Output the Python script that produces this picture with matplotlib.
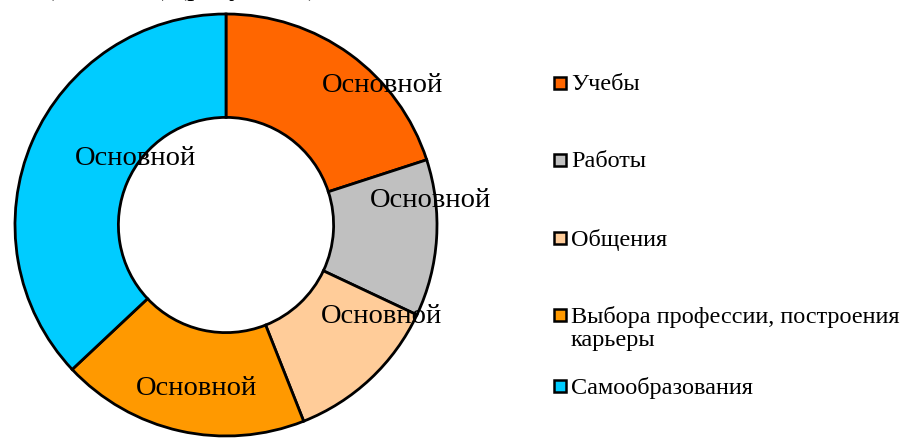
import matplotlib.pyplot as plt
from matplotlib.patches import Rectangle

# доли по категориям (оценка по рисунку)
categories = ['Учебы', 'Работы', 'Общения',
              'Выбора профессии, построения\nкарьеры', 'Самообразования']
values = [20, 12, 12, 19, 37]
label_text = 'Основной'
colors = ['#FF6600', '#C0C0C0', '#FFCC99', '#FF9900', '#00CCFF']

# положение подписей (в долях радиуса)
label_pos = [(0.744, 0.668), (0.967, 0.123), (0.739, -0.431),
             (-0.142, -0.768), (-0.431, 0.318)]

plt.rcParams['font.family'] = ['Liberation Serif', 'DejaVu Serif']

fig = plt.figure(figsize=(9.05, 4.39), dpi=100)
ax = fig.add_axes([(226 - 211) / 905, (439 - 226 - 211) / 439, 422 / 905, 422 / 439])

ax.pie(values, colors=colors, startangle=90, counterclock=False, radius=1,
       wedgeprops=dict(width=0.49, edgecolor='black', linewidth=2))
ax.set_xlim(-1, 1)
ax.set_ylim(-1, 1)
ax.set_aspect('equal')
ax.axis('off')

for x, y in label_pos:
    ax.text(x, y, label_text, ha='center', va='center', fontsize=20.5)

# легенда
leg_y = [84, 161, 239, 316, 387]
for cat, col, y in zip(categories, colors, leg_y):
    fig.patches.append(Rectangle((554 / 905, 1 - (y + 6) / 439), 12 / 905, 12 / 439,
                                 transform=fig.transFigure, facecolor=col,
                                 edgecolor='black', linewidth=1.8))
    fig.text(571 / 905, 1 - (y - 10) / 439, cat, ha='left', va='top',
             fontsize=17.5, linespacing=1.15)

# обрезанная строка текста сверху
fig.text(45 / 905, 1 + 5 / 439, '(в %, чел.) (рисунок 2)', ha='left',
         va='baseline', fontsize=20.5)

fig.savefig('out.png', dpi=100)
